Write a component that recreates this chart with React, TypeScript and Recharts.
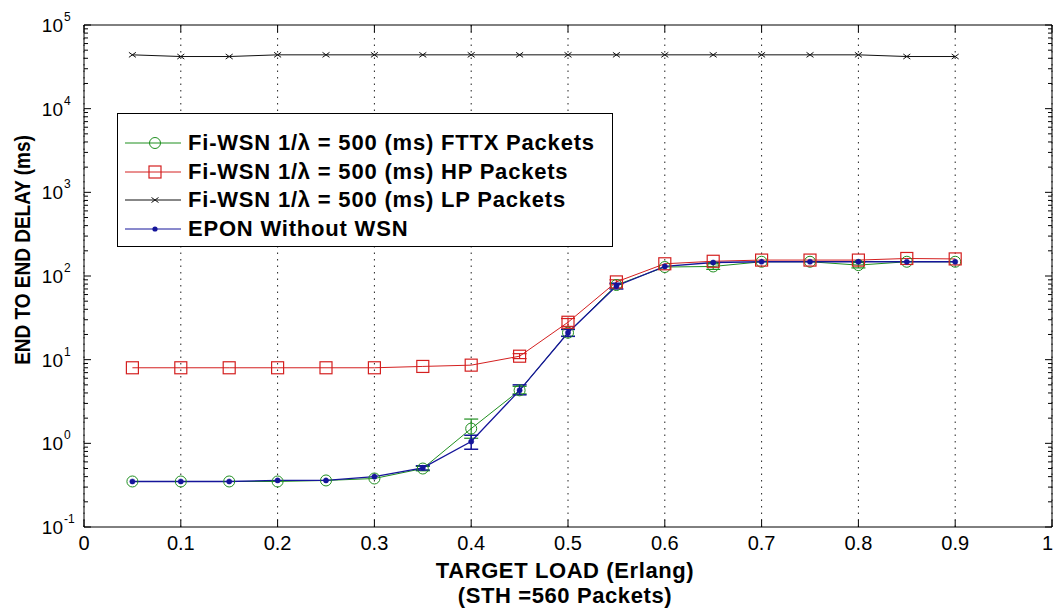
import React from 'react';
import { LineChart, Line, XAxis, YAxis, CartesianGrid, Legend, ErrorBar } from 'recharts';

const loads = [0.05, 0.1, 0.15, 0.2, 0.25, 0.3, 0.35, 0.4, 0.45, 0.5, 0.55, 0.6, 0.65, 0.7, 0.75, 0.8, 0.85, 0.9];
const fttxDelay = [0.35, 0.35, 0.35, 0.35, 0.36, 0.38, 0.5, 1.5, 4.3, 21, 78, 128, 130, 148, 148, 135, 148, 148];
const hpDelay = [8, 8, 8, 8, 8, 8, 8.3, 8.6, 11, 28, 85, 140, 150, 155, 155, 155, 162, 160];
const lpDelay = [44000, 42000, 42000, 44000, 44000, 44000, 44000, 44000, 44000, 44000, 44000, 44000, 44000, 44000, 44000, 44000, 42000, 42000];
const eponDelay = [0.35, 0.35, 0.35, 0.36, 0.36, 0.4, 0.51, 1.05, 4.3, 21, 76, 130, 145, 148, 148, 148, 148, 148];

const fttxErr = [null, null, null, null, null, null, [0.03, 0.03], [0.35, 0.45], [0.4, 0.5], [2, 2], null, null, [10, 10], null, null, [10, 10], null, null];
const hpErr = [null, null, null, null, null, null, null, null, [0.7, 0.8], [3, 3], [5, 5], null, null, null, null, null, null, null];
const eponErr = [null, null, null, null, null, null, [0.03, 0.03], [0.2, 0.2], [0.5, 0.7], [2, 2], [6, 6], null, null, null, null, null, null, null];

const xTicks = [0, 0.1, 0.2, 0.3, 0.4, 0.5, 0.6, 0.7, 0.8, 0.9, 1];
const xTickLabels = ['0', '0.1', '0.2', '0.3', '0.4', '0.5', '0.6', '0.7', '0.8', '0.9', '1'];
const yDecades = [0.1, 1, 10, 100, 1000, 10000, 100000];
const yExponents = ['-1', '0', '1', '2', '3', '4', '5'];

const seriesNames = [
  'Fi-WSN 1/\u03bb = 500 (ms) FTTX Packets',
  'Fi-WSN 1/\u03bb = 500 (ms) HP Packets',
  'Fi-WSN 1/\u03bb = 500 (ms) LP Packets',
  'EPON Without WSN',
];
const xTitle = 'TARGET LOAD (Erlang)';
const xSubTitle = '(STH =560 Packets)';
const yTitle = 'END TO END DELAY (ms)';

const GREEN = '#1f8f1f';
const RED = '#d42020';
const BLACK = '#111111';
const BLUE = '#15159a';
const FONT = "Arial, 'Liberation Sans', sans-serif";

const data = loads.map((x, i) => ({
  x,
  fttx: fttxDelay[i],
  hp: hpDelay[i],
  lp: lpDelay[i],
  epon: eponDelay[i],
  fttxErr: fttxErr[i],
  hpErr: hpErr[i],
  eponErr: eponErr[i],
}));

// all log ticks (major decades + minor 2..9)
const yAllTicks: number[] = [];
yDecades.forEach((d, i) => {
  if (i < yDecades.length - 1) {
    for (let m = 1; m <= 9; m++) yAllTicks.push(m * d);
  } else {
    yAllTicks.push(d);
  }
});
const decadeIndex = (v: number) => {
  const l = Math.log10(v);
  const r = Math.round(l);
  if (Math.abs(l - r) < 1e-9) return yDecades.findIndex((d) => Math.abs(Math.log10(d) - r) < 1e-9);
  return -1;
};

const BottomTick = (props: any) => {
  const { x, y, payload } = props;
  const idx = xTicks.findIndex((t) => Math.abs(t - payload.value) < 1e-9);
  const last = idx === xTicks.length - 1;
  return (
    <g>
      <line x1={x} x2={x} y1={y} y2={y - 7} stroke="#000" strokeWidth={1} />
      <text
        x={last ? 1053 : x}
        y={y + 23}
        textAnchor={last ? 'end' : 'middle'}
        fontFamily={FONT}
        fontSize={20}
        fill="#000"
      >
        {idx >= 0 ? xTickLabels[idx] : ''}
      </text>
    </g>
  );
};

const TopTick = (props: any) => {
  const { x, y } = props;
  return <line x1={x} x2={x} y1={y} y2={y + 7} stroke="#000" strokeWidth={1} />;
};

const LeftTick = (props: any) => {
  const { x, y, payload } = props;
  const di = decadeIndex(payload.value);
  const len = di >= 0 ? 7 : 4;
  return (
    <g>
      <line x1={x} x2={x + len} y1={y} y2={y} stroke="#000" strokeWidth={1} />
      {di >= 0 && (
        <text fontFamily={FONT} fill="#000">
          <tspan x={x - 21} y={y + 7} textAnchor="end" fontSize={19}>10</tspan>
          <tspan x={x - 20} y={y - 4} textAnchor="start" fontSize={12}>{yExponents[di]}</tspan>
        </text>
      )}
    </g>
  );
};

const RightTick = (props: any) => {
  const { x, y, payload } = props;
  const di = decadeIndex(payload.value);
  const len = di >= 0 ? 7 : 4;
  return <line x1={x} x2={x - len} y1={y} y2={y} stroke="#000" strokeWidth={1} />;
};

const CircleDot = (props: any) => {
  const { cx, cy, index } = props;
  if (cx == null || cy == null) return <g key={index} />;
  return <circle key={index} cx={cx} cy={cy} r={5.5} fill="none" stroke={GREEN} strokeWidth={1} />;
};
const SquareDot = (props: any) => {
  const { cx, cy, index } = props;
  if (cx == null || cy == null) return <g key={index} />;
  return <rect key={index} x={cx - 6} y={cy - 6} width={12} height={12} fill="none" stroke={RED} strokeWidth={1.2} />;
};
const CrossDot = (props: any) => {
  const { cx, cy, index } = props;
  if (cx == null || cy == null) return <g key={index} />;
  return (
    <g key={index}>
      <line x1={cx - 3.5} x2={cx + 3.5} y1={cy - 2.5} y2={cy + 2.5} stroke={BLACK} strokeWidth={1} />
      <line x1={cx - 3.5} x2={cx + 3.5} y1={cy + 2.5} y2={cy - 2.5} stroke={BLACK} strokeWidth={1} />
    </g>
  );
};
const PointDot = (props: any) => {
  const { cx, cy, index } = props;
  if (cx == null || cy == null) return <g key={index} />;
  return <circle key={index} cx={cx} cy={cy} r={2.6} fill={BLUE} stroke={BLUE} strokeWidth={0.5} />;
};

const legendMarkers = [
  (cx: number, cy: number) => <circle cx={cx} cy={cy} r={5.5} fill="none" stroke={GREEN} strokeWidth={1} />,
  (cx: number, cy: number) => <rect x={cx - 6} y={cy - 6} width={12} height={12} fill="none" stroke={RED} strokeWidth={1.2} />,
  (cx: number, cy: number) => (
    <g>
      <line x1={cx - 3.5} x2={cx + 3.5} y1={cy - 2.5} y2={cy + 2.5} stroke={BLACK} strokeWidth={1} />
      <line x1={cx - 3.5} x2={cx + 3.5} y1={cy + 2.5} y2={cy - 2.5} stroke={BLACK} strokeWidth={1} />
    </g>
  ),
  (cx: number, cy: number) => <circle cx={cx} cy={cy} r={2.6} fill={BLUE} />,
];
const legendColors = [GREEN, RED, BLACK, BLUE];

const LegendBox = () => (
  <div
    style={{
      boxSizing: 'border-box',
      width: 496,
      height: 134,
      border: '1px solid #000',
      background: '#fff',
      paddingTop: 15,
    }}
  >
    {seriesNames.map((name, i) => (
      <div key={name} style={{ display: 'flex', alignItems: 'center', height: 28.5 }}>
        <svg width={70} height={28} style={{ flex: 'none' }}>
          <line x1={7} x2={63} y1={14} y2={14} stroke={legendColors[i]} strokeWidth={1} />
          {legendMarkers[i](37, 14)}
        </svg>
        <span
          style={{
            fontFamily: FONT,
            fontWeight: 'bold',
            fontSize: 22,
            letterSpacing: 0.8,
            color: '#000',
            whiteSpace: 'nowrap',
            lineHeight: '28px',
          }}
        >
          {name}
        </span>
      </div>
    ))}
  </div>
);

export default function App() {
  return (
    <div style={{ position: 'fixed', left: 0, top: 0, width: 1054, height: 612, background: '#fff' }}>
      <LineChart width={1054} height={612} data={data} margin={{ top: 0, right: 0, bottom: 0, left: 0 }}>
        <XAxis
          xAxisId="t"
          orientation="top"
          type="number"
          dataKey="x"
          domain={[0, 1]}
          ticks={xTicks}
          interval={0}
          height={25}
          tickSize={0}
          tickMargin={0}
          tickLine={false}
          axisLine={{ stroke: '#000' }}
          tick={<TopTick />}
        />
        <XAxis
          xAxisId="b"
          orientation="bottom"
          type="number"
          dataKey="x"
          domain={[0, 1]}
          ticks={xTicks}
          interval={0}
          height={85}
          tickSize={0}
          tickMargin={0}
          tickLine={false}
          axisLine={{ stroke: '#000' }}
          tick={<BottomTick />}
        />
        <YAxis
          yAxisId="l"
          orientation="left"
          scale="log"
          type="number"
          domain={[0.1, 100000]}
          allowDataOverflow
          ticks={yAllTicks}
          interval={0}
          width={84}
          tickSize={0}
          tickMargin={0}
          tickLine={false}
          axisLine={{ stroke: '#000' }}
          tick={<LeftTick />}
        />
        <YAxis
          yAxisId="r"
          orientation="right"
          scale="log"
          type="number"
          domain={[0.1, 100000]}
          allowDataOverflow
          ticks={yAllTicks}
          interval={0}
          width={2}
          tickSize={0}
          tickMargin={0}
          tickLine={false}
          axisLine={{ stroke: '#000' }}
          tick={<RightTick />}
        />
        <CartesianGrid
          xAxisId="b"
          yAxisId="l"
          horizontal={false}
          vertical
          stroke="#222"
          strokeDasharray="1.5 5"
          strokeWidth={1}
        />
        <Line xAxisId="b" yAxisId="l" dataKey="fttx" stroke={GREEN} strokeWidth={1} dot={<CircleDot />} isAnimationActive={false}>
          <ErrorBar dataKey="fttxErr" direction="y" width={7} stroke={GREEN} strokeWidth={1.2} />
        </Line>
        <Line xAxisId="b" yAxisId="l" dataKey="hp" stroke={RED} strokeWidth={1} dot={<SquareDot />} isAnimationActive={false}>
          <ErrorBar dataKey="hpErr" direction="y" width={7} stroke={RED} strokeWidth={1.2} />
        </Line>
        <Line xAxisId="b" yAxisId="l" dataKey="lp" stroke={BLACK} strokeWidth={1} dot={<CrossDot />} isAnimationActive={false} />
        <Line xAxisId="b" yAxisId="l" dataKey="epon" stroke={BLUE} strokeWidth={1.3} dot={<PointDot />} isAnimationActive={false}>
          <ErrorBar dataKey="eponErr" direction="y" width={7} stroke={BLUE} strokeWidth={1.5} />
        </Line>
        <Legend
          layout="vertical"
          align="center"
          verticalAlign="middle"
          content={<LegendBox />}
          wrapperStyle={{ left: 117, top: 113, width: 496, height: 134, margin: 0, padding: 0 }}
        />
        <text x={565} y={578} textAnchor="middle" fontFamily={FONT} fontWeight="bold" fontSize={22} letterSpacing={0.6} fill="#000">
          {xTitle}
        </text>
        <text x={565} y={603} textAnchor="middle" fontFamily={FONT} fontWeight="bold" fontSize={22} letterSpacing={0.6} fill="#000">
          {xSubTitle}
        </text>
        <text
          x={0}
          y={0}
          transform="translate(30 250) rotate(-90) scale(1 1.15)"
          textAnchor="middle"
          fontFamily={FONT}
          fontWeight="bold"
          fontSize={19}
          fill="#000"
        >
          {yTitle}
        </text>
      </LineChart>
    </div>
  );
}
